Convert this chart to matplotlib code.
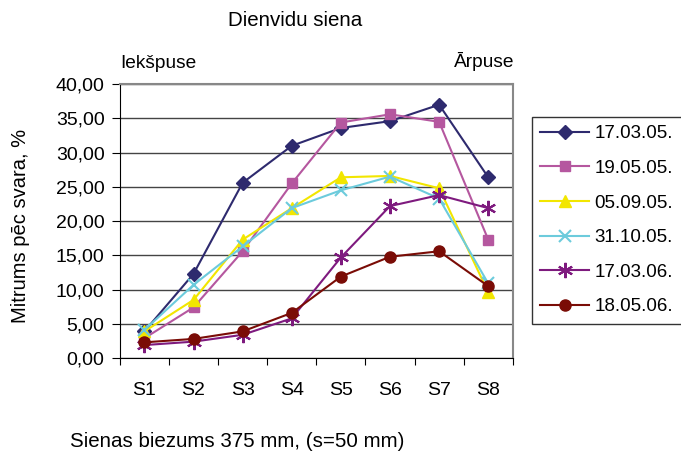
import matplotlib
matplotlib.use('Agg')
import matplotlib.pyplot as plt
from matplotlib.ticker import FuncFormatter

plt.rcParams['font.family'] = ['Liberation Sans', 'DejaVu Sans']

categories = ['S1', 'S2', 'S3', 'S4', 'S5', 'S6', 'S7', 'S8']
s_170305 = [3.9, 12.3, 25.6, 31.0, 33.6, 34.6, 37.0, 26.4]
s_190505 = [2.9, 7.4, 15.6, 25.5, 34.4, 35.6, 34.5, 17.3]
s_050905 = [3.9, 8.5, 17.3, 21.9, 26.4, 26.6, 24.8, 9.6]
s_311005 = [4.1, 10.7, 16.3, 21.9, 24.5, 26.5, 23.3, 10.9]
s_170306 = [1.9, 2.4, 3.4, 5.8, 14.7, 22.2, 23.8, 21.9]
s_180506 = [2.3, 2.8, 3.9, 6.6, 11.9, 14.8, 15.6, 10.5]

series = [
    ('17.03.05.', s_170305, '#2e2a6e', 'D', 7),
    ('19.05.05.', s_190505, '#b5579f', 's', 7.5),
    ('05.09.05.', s_050905, '#f2e600', '^', 9),
    ('31.10.05.', s_311005, '#6ccbdc', 'x', 9),
    ('17.03.06.', s_170306, '#7e1a7e', (6, 2, 0), 11),
    ('18.05.06.', s_180506, '#7a0c06', 'o', 8),
]

fig = plt.figure(figsize=(6.81, 4.55), dpi=100)
ax = fig.add_axes([0.176, 0.213, 0.577, 0.602])

xpos = [i + 0.5 for i in range(len(categories))]
for label, vals, color, marker, ms in series:
    ax.plot(xpos, vals, color=color, marker=marker, markersize=ms,
            markeredgewidth=1.5 if marker in ('x', (6, 2, 0)) else 1,
            linewidth=1.5, label=label, zorder=3)

ax.set_xlim(0, 8)
ax.set_ylim(0, 40)
ax.set_yticks(range(0, 41, 5))
ax.yaxis.set_major_formatter(FuncFormatter(lambda v, p: f'{v:.2f}'.replace('.', ',')))
ax.set_xticks(range(0, 9))
ax.set_xticklabels([])
ax.set_xticks(xpos, minor=True)
ax.set_xticklabels(categories, minor=True)
ax.tick_params(axis='x', which='minor', length=0, pad=17, labelsize=14)
ax.tick_params(axis='x', which='major', length=5, direction='out', color='black')
ax.tick_params(axis='y', length=6, direction='out', labelsize=14, pad=5)
ax.grid(axis='y', color='#444444', linewidth=1)
ax.set_axisbelow(True)
for side in ('top', 'right'):
    ax.spines[side].set_color('#888888')
    ax.spines[side].set_linewidth(1.5)
for side in ('left', 'bottom'):
    ax.spines[side].set_color('black')

fig.text(0.434, 0.956, 'Dienvidu siena', ha='center', va='center', fontsize=14.8)
fig.text(0.176, 0.86, 'Iekšpuse', ha='left', va='center', fontsize=13.8)
fig.text(0.756, 0.865, 'Ārpuse', ha='right', va='center', fontsize=13.8)
fig.text(0.03, 0.503, 'Mitrums pēc svara, %', rotation=90, ha='center', va='center', fontsize=14.5)
fig.text(0.103, 0.03, 'Sienas biezums 375 mm, (s=50 mm)', ha='left', va='center', fontsize=14.8)

leg = fig.legend(loc='upper left', bbox_to_anchor=(0.781, 0.743), bbox_transform=fig.transFigure,
                 fontsize=13.5, frameon=True, fancybox=False, edgecolor='black',
                 handlelength=2.6, labelspacing=0.93, borderpad=0.45, handletextpad=0.3,
                 borderaxespad=0)
leg.get_frame().set_linewidth(1)

fig.savefig('out.png', dpi=100)
